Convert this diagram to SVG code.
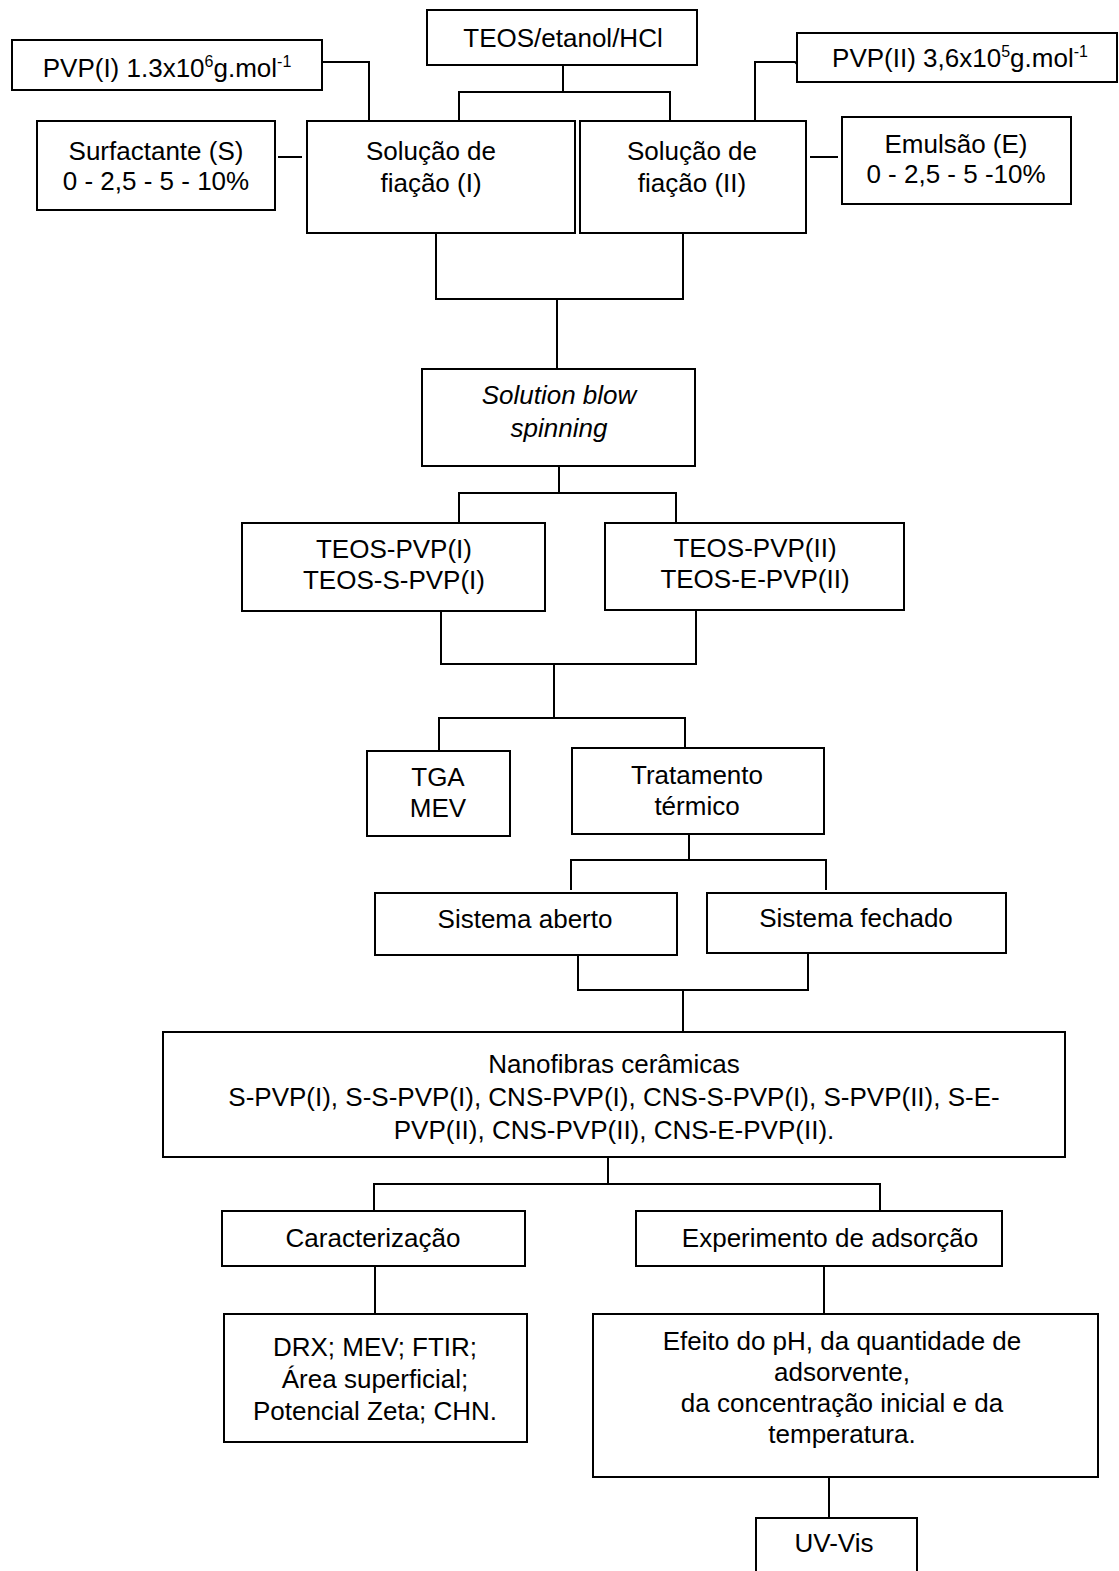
<svg xmlns="http://www.w3.org/2000/svg" width="1119" height="1571" viewBox="0 0 1119 1571">
<style>
rect{fill:#fff;stroke:#000;stroke-width:2}
text{font-family:"Liberation Sans",Arial,sans-serif;font-size:26px;fill:#000;text-anchor:middle}
.c line,.c polyline{stroke:#000;stroke-width:2;fill:none}
.sup{font-size:16px}
</style>
<rect x="0" y="0" width="1119" height="1571" style="stroke:none"/>
<g class="c" id="connectors">
<polyline points="563,65 563,92"/>
<polyline points="459,121 459,92 670,92 670,121"/>
<polyline points="322,62 369,62 369,121"/>
<line x1="278" y1="157" x2="302" y2="157"/>
<polyline points="797,64 795,62 755,62 755,121"/>
<line x1="810" y1="157" x2="838" y2="157"/>
<polyline points="436,233 436,299 683,299 683,233"/>
<line x1="557" y1="299" x2="557" y2="369"/>
<line x1="559" y1="466" x2="559" y2="493"/>
<polyline points="459,523 459,493 676,493 676,523"/>
<polyline points="441,611 441,664 696,664 696,610"/>
<line x1="554" y1="664" x2="554" y2="718"/>
<polyline points="439,751 439,718 685,718 685,748"/>
<line x1="689" y1="834" x2="689" y2="860"/>
<polyline points="571,890 571,860 826,860 826,890"/>
<polyline points="578,955 578,990 808,990 808,953"/>
<line x1="683" y1="990" x2="683" y2="1032"/>
<line x1="608" y1="1157" x2="608" y2="1184"/>
<polyline points="374,1211 374,1184 880,1184 880,1211"/>
<line x1="375" y1="1266" x2="375" y2="1314"/>
<line x1="824" y1="1266" x2="824" y2="1314"/>
<line x1="829" y1="1477" x2="829" y2="1518"/>
</g>
<g id="teos"><rect x="427" y="10" width="270" height="55"/><text x="563" y="47">TEOS/etanol/HCl</text></g>
<g id="pvp1"><rect x="12" y="40" width="310" height="50"/><text x="167" y="77">PVP(I) 1.3x10<tspan class="sup" dy="-10">6</tspan><tspan dy="10">g.mol</tspan><tspan class="sup" dy="-10">-1</tspan></text></g>
<g id="pvp2"><rect x="797" y="33" width="320" height="49"/><text x="960" y="67">PVP(II) 3,6x10<tspan class="sup" dy="-10">5</tspan><tspan dy="10">g.mol</tspan><tspan class="sup" dy="-10">-1</tspan></text></g>
<g id="surf"><rect x="37" y="121" width="238" height="89"/><text x="156" y="160">Surfactante (S)</text><text x="156" y="190">0 - 2,5 - 5 - 10%</text></g>
<g id="sol1"><rect x="307" y="121" width="268" height="112"/><text x="431" y="160">Solução de</text><text x="431" y="192">fiação (I)</text></g>
<g id="sol2"><rect x="580" y="121" width="226" height="112"/><text x="692" y="160">Solução de</text><text x="692" y="192">fiação (II)</text></g>
<g id="emul"><rect x="842" y="117" width="229" height="87"/><text x="956" y="153">Emulsão (E)</text><text x="956" y="183">0 - 2,5 - 5 -10%</text></g>
<g id="sbs"><rect x="422" y="369" width="273" height="97"/><text x="559" y="404" font-style="italic">Solution blow</text><text x="559" y="437" font-style="italic">spinning</text></g>
<g id="tp1"><rect x="242" y="523" width="303" height="88"/><text x="394" y="558">TEOS-PVP(I)</text><text x="394" y="589">TEOS-S-PVP(I)</text></g>
<g id="tp2"><rect x="605" y="523" width="299" height="87"/><text x="755" y="557">TEOS-PVP(II)</text><text x="755" y="588">TEOS-E-PVP(II)</text></g>
<g id="tga"><rect x="367" y="751" width="143" height="85"/><text x="438" y="786">TGA</text><text x="438" y="817">MEV</text></g>
<g id="trat"><rect x="572" y="748" width="252" height="86"/><text x="697" y="784">Tratamento</text><text x="697" y="815">térmico</text></g>
<g id="aberto"><rect x="375" y="893" width="302" height="62"/><text x="525" y="928">Sistema aberto</text></g>
<g id="fechado"><rect x="707" y="893" width="299" height="60"/><text x="856" y="927">Sistema fechado</text></g>
<g id="nano"><rect x="163" y="1032" width="902" height="125"/><text x="614" y="1073">Nanofibras cerâmicas</text><text x="614" y="1106">S-PVP(I), S-S-PVP(I), CNS-PVP(I), CNS-S-PVP(I), S-PVP(II), S-E-</text><text x="614" y="1139">PVP(II), CNS-PVP(II), CNS-E-PVP(II).</text></g>
<g id="carac"><rect x="222" y="1211" width="303" height="55"/><text x="373" y="1247">Caracterização</text></g>
<g id="exper"><rect x="636" y="1211" width="366" height="55"/><text x="830" y="1247">Experimento de adsorção</text></g>
<g id="drx"><rect x="224" y="1314" width="303" height="128"/><text x="375" y="1356">DRX; MEV; FTIR;</text><text x="375" y="1388">Área superficial;</text><text x="375" y="1420">Potencial Zeta; CHN.</text></g>
<g id="efeito"><rect x="593" y="1314" width="505" height="163"/><text x="842" y="1350">Efeito do pH, da quantidade de</text><text x="842" y="1381">adsorvente,</text><text x="842" y="1412">da concentração inicial e da</text><text x="842" y="1443">temperatura.</text></g>
<g id="uvvis"><rect x="756" y="1518" width="161" height="60"/><text x="834" y="1552">UV-Vis</text></g>
</svg>
